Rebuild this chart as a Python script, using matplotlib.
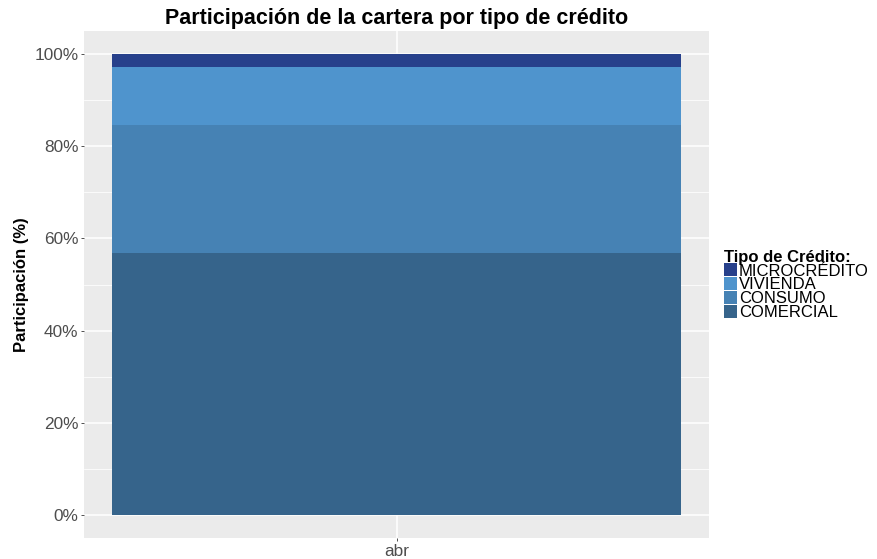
import matplotlib.pyplot as plt
import matplotlib.ticker as mticker
from matplotlib.patches import Patch

plt.rcParams["font.family"] = ["Liberation Sans", "DejaVu Sans"]

meses = ["abr"]
tipos = ["COMERCIAL", "CONSUMO", "VIVIENDA", "MICROCRÉDITO"]
participacion = {
    "COMERCIAL": [56.8],
    "CONSUMO": [27.9],
    "VIVIENDA": [12.5],
    "MICROCRÉDITO": [2.8],
}
colores = {
    "COMERCIAL": "#36648B",
    "CONSUMO": "#4682B4",
    "VIVIENDA": "#4F94CD",
    "MICROCRÉDITO": "#27408B",
}

fig = plt.figure(figsize=(8.77, 5.59), dpi=100)
ax = fig.add_axes([84 / 877, 1 - 538 / 559, 625 / 877, 507 / 559])
ax.set_facecolor("#EBEBEB")

x = list(range(len(meses)))
bottom = [0.0] * len(meses)
for t in tipos:
    vals = participacion[t]
    ax.bar(x, vals, width=0.9, bottom=bottom, color=colores[t], zorder=3)
    bottom = [b + v for b, v in zip(bottom, vals)]

ax.set_xlim(-0.495, 0.495)
ax.set_ylim(-5, 105)
ax.set_xticks(x)
ax.set_xticklabels(meses)
ax.yaxis.set_major_locator(mticker.MultipleLocator(20))
ax.yaxis.set_minor_locator(mticker.MultipleLocator(10))
ax.yaxis.set_major_formatter(mticker.FuncFormatter(lambda v, p: f"{v:.0f}%"))
ax.grid(which="major", color="white", linewidth=1.1, zorder=0)
ax.grid(which="minor", axis="y", color="white", linewidth=0.55, zorder=0)
for s in ax.spines.values():
    s.set_visible(False)
ax.tick_params(which="major", colors="#333333", labelcolor="#4D4D4D",
               labelsize=12.4, length=2.5, width=0.6, pad=1.5)
ax.tick_params(which="minor", length=0)

ax.set_ylabel("Participación (%)", fontsize=12, fontweight="bold", labelpad=4)
ax.set_title("Participación de la cartera por tipo de crédito",
             fontsize=15.5, fontweight="bold", pad=5)

handles = [Patch(facecolor=colores[t], edgecolor="none") for t in reversed(tipos)]
leg = fig.legend(handles, list(reversed(tipos)), title="Tipo de Crédito:",
                 loc="center left", bbox_to_anchor=(724 / 877, 1 - 285 / 559),
                 frameon=False, fontsize=12, handlelength=0.8, handleheight=0.8,
                 handletextpad=0.1, labelspacing=-0.08, borderaxespad=0,
                 borderpad=0, alignment="left")
leg.get_title().set_fontweight("bold")
leg.get_title().set_fontsize(12)

fig.savefig("out.png", dpi=100)
